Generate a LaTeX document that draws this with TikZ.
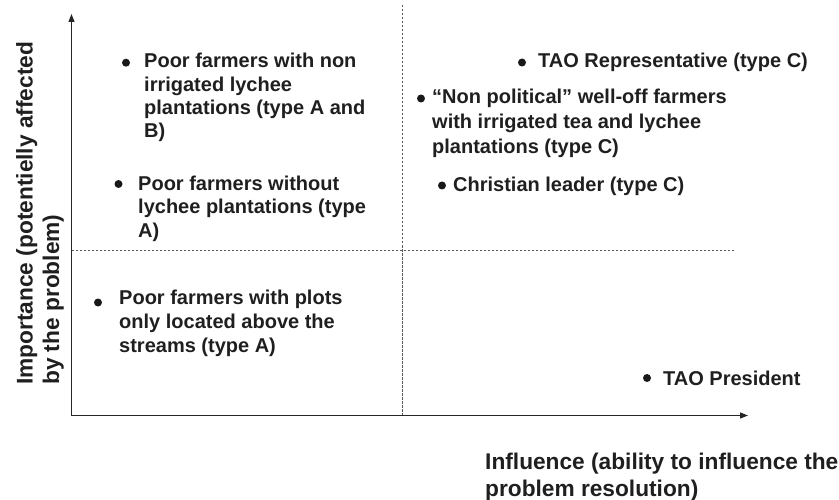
\documentclass[tikz,border=0pt]{standalone}
\usepackage{fontspec}
\setmainfont{Liberation Sans}
\usetikzlibrary{arrows.meta}
\begin{document}
\begin{tikzpicture}[x=1pt,y=-1pt,
  axis/.style={draw=black!85, line width=1.3pt, {Triangle[length=8pt,width=6pt]}-{Triangle[length=8pt,width=6pt]}},
  guide/.style={draw=black!65, line width=1pt, dash pattern=on 2.5pt off 1.5pt},
  dot/.style={circle, fill=black!90, inner sep=0pt, minimum size=8pt},
  item/.style={font=\fontsize{20}{23.3}\selectfont\bfseries, text=black!88, align=left, inner sep=0pt, anchor=base west},
  axlabel/.style={font=\fontsize{22.7}{26.5}\selectfont\bfseries, text=black!88, align=left, inner sep=0pt, anchor=base west}]
\useasboundingbox (0,0) rectangle (839,500);
\coordinate (O) at (71.5,415.5);
\coordinate (ytip) at (71.5,14);
\coordinate (xtip) at (748,415.5);
\coordinate (vtop) at (402.5,5);
\coordinate (vbot) at (402.5,415.5);
\coordinate (hl) at (71.5,251);
\coordinate (hr) at (734,251);
\draw[guide] (vtop) -- (vbot);
\draw[guide] (hl) -- (hr);
\draw[axis] (ytip) -- (O) -- (xtip);

% top-left quadrant (anchor = baseline of the last line)
\node[dot] (d1) at (126,62.7) {};
\node[item] (t1) at (144,137.9) {Poor farmers with non\\irrigated lychee\\plantations (type A and\\B)};
\node[dot] (d2) at (118.5,184) {};
\node[item,font=\fontsize{20}{23.5}\selectfont\bfseries] (t2) at (138,237) {Poor farmers without\\lychee plantations (type\\A)};
% bottom-left quadrant
\node[dot] (d3) at (98,302.5) {};
\node[item,font=\fontsize{20}{24}\selectfont\bfseries] (t3) at (119,352) {Poor farmers with plots\\only located above the\\streams (type A)};
% top-right quadrant
\node[dot] (d4) at (522,62.5) {};
\node[item] (t4) at (538,68) {TAO Representative (type C)};
\node[dot] (d5) at (421,98.5) {};
\node[item,font=\fontsize{20}{24.7}\selectfont\bfseries] (t5) at (432,153.4) {“Non political” well-off farmers\\with irrigated tea and lychee\\plantations (type C)};
\node[dot] (d6) at (442,185.5) {};
\node[item] (t6) at (453,192) {Christian leader (type C)};
% bottom-right quadrant
\node[dot] (d7) at (647,378) {};
\node[item] (t7) at (663,385) {TAO President};

% axis labels
\node[axlabel,rotate=90] (ylab) at (59,385) {Importance (potentielly affected\\by the problem)};
\node[axlabel] (xlab) at (485,496) {Influence (ability to influence the\\problem resolution)};
\end{tikzpicture}
\end{document}
